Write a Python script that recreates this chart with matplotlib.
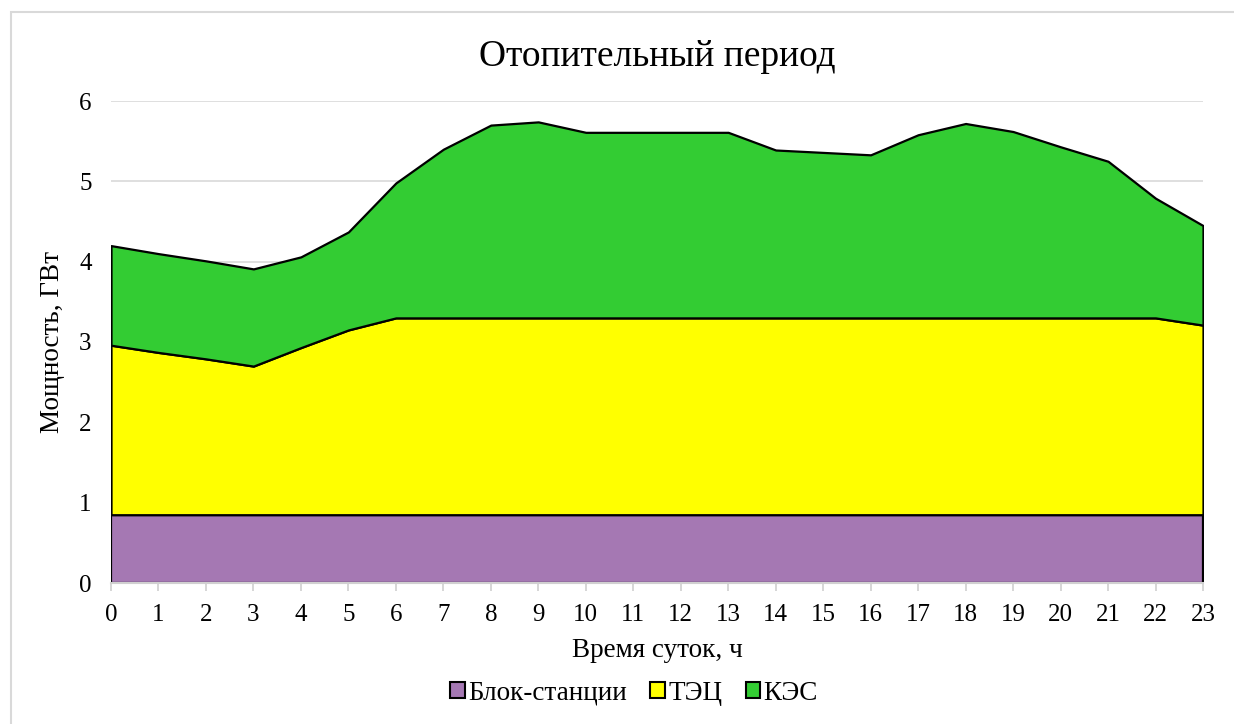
import matplotlib.pyplot as plt
from matplotlib.patches import Patch, Rectangle

hours = list(range(24))
# суммарные уровни (ГВт)
block = [0.85] * 24
tec = [2.11, 2.02, 1.94, 1.85, 2.08, 2.30, 2.45, 2.45, 2.45, 2.45, 2.45, 2.45,
       2.45, 2.45, 2.45, 2.45, 2.45, 2.45, 2.45, 2.45, 2.45, 2.45, 2.45, 2.36]
kes = [1.24, 1.23, 1.22, 1.21, 1.13, 1.22, 1.68, 2.10, 2.40, 2.44, 2.31, 2.31,
       2.31, 2.31, 2.09, 2.06, 2.03, 2.28, 2.42, 2.32, 2.13, 1.95, 1.49, 1.24]
names = ['Блок-станции', 'ТЭЦ', 'КЭС']
colors = ['#a578b3', '#ffff00', '#33cc33']

plt.rcParams['font.family'] = ['Liberation Serif', 'DejaVu Serif']

fig = plt.figure(figsize=(12.34, 7.24), dpi=100)
fig.patches.append(Rectangle((11 / 1234, -0.01), 1.05, 1 - 12 / 724 + 0.01,
                             transform=fig.transFigure, fill=False,
                             edgecolor='#d9d9d9', lw=1.5))
ax = fig.add_axes([111 / 1234, 1 - 583 / 724, 1092 / 1234, 482 / 724])

ax.stackplot(hours, block, tec, kes, colors=colors, edgecolor='black', lw=1.6,
             zorder=3)

ax.set_xlim(0, 23)
ax.set_ylim(0, 6)
ax.set_xticks(hours)
ax.set_yticks(range(7))
ax.grid(axis='y', color='#d9d9d9', lw=1.2, zorder=0)
for s in ['top', 'right', 'left']:
    ax.spines[s].set_visible(False)
ax.spines['bottom'].set_color('#d0d0d0')
ax.spines['bottom'].set_linewidth(1.5)
ax.spines['bottom'].set_zorder(4)
ax.tick_params(axis='x', length=6, width=1.2, color='#d0d0d0', labelsize=18, pad=9)
ax.tick_params(axis='y', length=0, labelsize=18, pad=14)

ax.set_title('Отопительный период', fontsize=27, pad=25)
ax.set_xlabel('Время суток, ч', fontsize=19.5, labelpad=9)
ax.set_ylabel('Мощность, ГВт', fontsize=19.5, labelpad=10)

handles = [Patch(facecolor=c, edgecolor='black', lw=1.5) for c in colors]
fig.legend(handles, names, loc='center', bbox_to_anchor=(0.514, 1 - 693 / 724),
           ncol=3, frameon=False, fontsize=19.5, handlelength=0.55,
           handleheight=0.55, handletextpad=0.12, columnspacing=0.85)

fig.savefig('out.png', dpi=100)
